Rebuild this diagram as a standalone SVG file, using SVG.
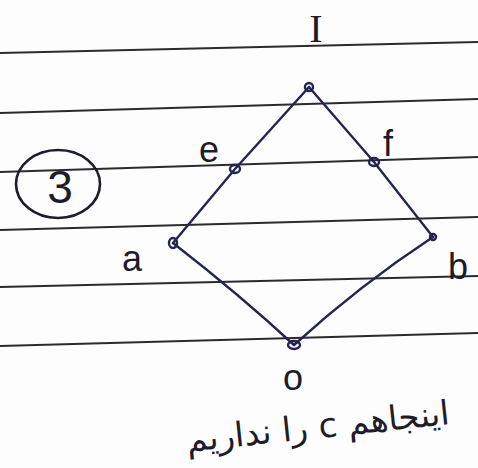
<svg xmlns="http://www.w3.org/2000/svg" width="478" height="468" viewBox="0 0 478 468">
<style>
.rule{stroke:#2b2b2b;stroke-width:2;fill:none}
.edge{stroke:#232550;stroke-width:2.4;fill:none;stroke-linecap:round}
.pt{fill:none;stroke:#232550;stroke-width:2.4}
.lbl{font-family:"Liberation Sans",sans-serif;fill:#1c1c2a;font-size:36px;text-anchor:middle}
.serif{font-family:"Liberation Serif",serif;font-size:40px}
.fa{font-family:"DejaVu Sans",sans-serif;fill:#1c1c2a;font-size:34px;text-anchor:middle}
</style>
<rect width="478" height="468" fill="#fdfdfd"/>
<g id="paper">
<line class="rule" x1="0" y1="53" x2="478" y2="42"/>
<line class="rule" x1="0" y1="113" x2="478" y2="99"/>
<line class="rule" x1="0" y1="172" x2="478" y2="157"/>
<line class="rule" x1="0" y1="230" x2="478" y2="217"/>
<line class="rule" x1="0" y1="287" x2="478" y2="276"/>
<line class="rule" x1="0" y1="346" x2="478" y2="333"/>
</g>
<g id="number">
<ellipse cx="58" cy="184" rx="42" ry="34" fill="none" stroke="#1c1c2a" stroke-width="2.6"/>
<text class="lbl" x="60" y="203" style="font-size:46px">3</text>
</g>
<g id="connectors">
<path class="edge" d="M309,87 L235,169 L173,243"/>
<path class="edge" d="M309,87 L374,162 L433,237"/>
<path class="edge" d="M173,243 Q240,295 294,345"/>
<path class="edge" d="M433,237 Q360,285 294,345"/>
</g>
<g id="node-I">
<circle class="pt" cx="309" cy="87" r="4" fill="#232550"/>
<text class="lbl serif" x="316" y="42">I</text>
</g>
<g id="node-e">
<ellipse class="pt" cx="235" cy="169" rx="5" ry="4"/>
<text class="lbl" x="209" y="162">e</text>
</g>
<g id="node-f">
<ellipse class="pt" cx="374" cy="162" rx="5" ry="4"/>
<text class="lbl" x="388" y="156">f</text>
</g>
<g id="node-a">
<ellipse class="pt" cx="173" cy="243" rx="4" ry="5"/>
<text class="lbl" x="132" y="271">a</text>
</g>
<g id="node-b">
<circle class="pt" cx="433" cy="237" r="3" fill="#232550"/>
<text class="lbl" x="458" y="279">b</text>
</g>
<g id="node-o">
<ellipse class="pt" cx="294" cy="345" rx="6" ry="4"/>
<text class="lbl" x="293" y="390">o</text>
</g>
<text class="fa" x="318" y="438" direction="rtl" transform="rotate(-6 318 428)">اینجاهم c را نداریم</text>
</svg>
